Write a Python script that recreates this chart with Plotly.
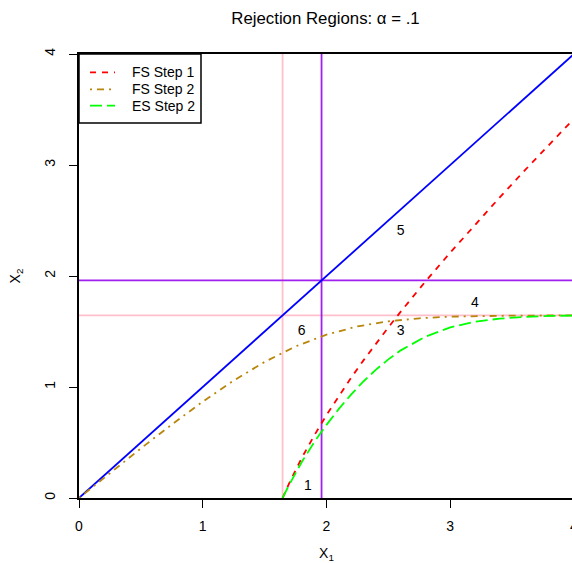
import plotly.graph_objects as go

# ---- data ----
x_ticks = [0, 1, 2, 3, 4]
y_ticks = [0, 1, 2, 3, 4]

crit_1side = 1.645   # pink reference lines
crit_2side = 1.96    # purple reference lines

diag_x = [0, 4]
diag_y = [0, 4]

fs1_x = [1.645, 1.67, 1.7, 1.8, 1.9, 2.0, 2.1, 2.2, 2.3, 2.4, 2.5, 2.6, 2.8, 3.0, 3.2, 3.4, 3.6, 3.8, 4.0]
fs1_y = [0.0, 0.064, 0.137, 0.361, 0.562, 0.747, 0.921, 1.085, 1.242, 1.392, 1.537, 1.679, 1.951, 2.211, 2.463, 2.708, 2.949, 3.186, 3.418]

fs2_x = [0.0, 0.25, 0.5, 0.75, 1.0, 1.25, 1.5, 1.75, 2.0, 2.25, 2.5, 2.75, 3.0, 3.5, 4.0]
fs2_y = [0.0, 0.225, 0.447, 0.662, 0.868, 1.058, 1.226, 1.366, 1.472, 1.546, 1.592, 1.619, 1.634, 1.643, 1.645]

es2_x = [1.645, 1.67, 1.7, 1.8, 1.9, 2.0, 2.1, 2.2, 2.3, 2.4, 2.5, 2.6, 2.8, 3.0, 3.2, 3.4, 3.6, 3.8, 4.0]
es2_y = [0.0, 0.058, 0.123, 0.324, 0.502, 0.659, 0.803, 0.934, 1.052, 1.157, 1.249, 1.330, 1.454, 1.537, 1.588, 1.616, 1.632, 1.640, 1.644]

region_labels = ["1", "3", "4", "5", "6"]
region_x = [1.85, 2.6, 3.2, 2.6, 1.8]
region_y = [0.10, 1.5, 1.75, 2.4, 1.5]

legend_names = ["FS Step 1", "FS Step 2", "ES Step 2"]
legend_colors = ["#FF0000", "#B8860B", "#00FF00"]
legend_dashes = ["6px,6px", "2px,5px,7px,5px", "12px,5px"]

FONT = "Liberation Sans, Arial, Helvetica, sans-serif"
W, H = 600, 563
L, T, B = 79, 54, 65
R = W - L - 495          # x = 4 lands at ~574 px, just past the 572 px window

fig = go.Figure()

# reference lines
fig.add_trace(go.Scatter(x=[crit_1side, crit_1side], y=[0, 4], mode="lines",
                         line=dict(color="#FFC0CB", width=1.8), showlegend=False, hoverinfo="skip"))
fig.add_trace(go.Scatter(x=[0, 4], y=[crit_1side, crit_1side], mode="lines",
                         line=dict(color="#FFC0CB", width=1.8), showlegend=False, hoverinfo="skip"))
fig.add_trace(go.Scatter(x=[crit_2side, crit_2side], y=[0, 4], mode="lines",
                         line=dict(color="#A020F0", width=1.8), showlegend=False, hoverinfo="skip"))
fig.add_trace(go.Scatter(x=[0, 4], y=[crit_2side, crit_2side], mode="lines",
                         line=dict(color="#A020F0", width=1.8), showlegend=False, hoverinfo="skip"))
fig.add_trace(go.Scatter(x=diag_x, y=diag_y, mode="lines",
                         line=dict(color="#0000FF", width=1.8), showlegend=False, hoverinfo="skip"))

curves = [(fs1_x, fs1_y), (fs2_x, fs2_y), (es2_x, es2_y)]
for (cx, cy), nm, col, dsh in zip(curves, legend_names, legend_colors, legend_dashes):
    fig.add_trace(go.Scatter(x=cx, y=cy, mode="lines", name=nm, showlegend=False,
                             line=dict(color=col, width=1.8, dash=dsh)))

fig.add_trace(go.Scatter(x=region_x, y=region_y, mode="text", text=region_labels,
                         textfont=dict(family=FONT, size=14, color="black"),
                         showlegend=False, hoverinfo="skip"))

# ---- R-style legend box (top-left) ----
def px2x(p):
    return (p - L) / 123.75

def py2y(p):
    return (498 - p) / 111.0

fig.add_shape(type="rect", xref="x", yref="y", x0=px2x(79), x1=px2x(201), y0=py2y(54), y1=py2y(123),
              line=dict(color="black", width=1.5), fillcolor="white", layer="above")
row_px = [72.3, 89.3, 105.7]
for rp, nm, col, dsh in zip(row_px, legend_names, legend_colors, legend_dashes):
    fig.add_shape(type="line", xref="x", yref="y", x0=px2x(90), x1=px2x(115),
                  y0=py2y(rp), y1=py2y(rp), line=dict(color=col, width=1.8, dash=dsh), layer="above")
    fig.add_annotation(x=px2x(130), y=py2y(rp), xref="x", yref="y", text=nm, showarrow=False,
                       xanchor="left", yanchor="middle", font=dict(family=FONT, size=14, color="black"))

fig.update_layout(
    width=W, height=H,
    margin=dict(l=L, r=R, t=T, b=B, autoexpand=False),
    paper_bgcolor="white", plot_bgcolor="white",
    font=dict(family=FONT, size=14, color="black"),
    title=dict(text="Rejection Regions: α = .1", x=(325.5) / W, xref="container", xanchor="center",
               y=1 - 18 / H, yref="container", yanchor="middle",
               font=dict(family=FONT, size=16.8, color="black")),
    showlegend=False,
    xaxis=dict(range=[0, 4], tickvals=x_ticks, ticktext=[str(v) for v in x_ticks],
               showgrid=False, zeroline=False, showline=True, linecolor="black", linewidth=1.5,
               mirror=True, ticks="outside", ticklen=8, tickwidth=1.2, tickcolor="black",
               ticklabelstandoff=6,
               title=dict(text="X<sub>1</sub>", standoff=22, font=dict(size=14))),
    yaxis=dict(range=[0, 4], tickvals=y_ticks, ticktext=[str(v) for v in y_ticks],
               showgrid=False, zeroline=False, showline=True, linecolor="black", linewidth=1.5,
               ticks="outside", ticklen=8, tickwidth=1.2, tickcolor="black", tickangle=-90,
               ticklabelstandoff=9,
               title=dict(text="X<sub>2</sub>", standoff=18, font=dict(size=14))),
)

fig.write_html(
    "out.html",
    config={"displayModeBar": False},
    post_script="document.body.style.margin='0';document.body.style.overflow='hidden';"
                "document.documentElement.style.overflow='hidden';",
)
